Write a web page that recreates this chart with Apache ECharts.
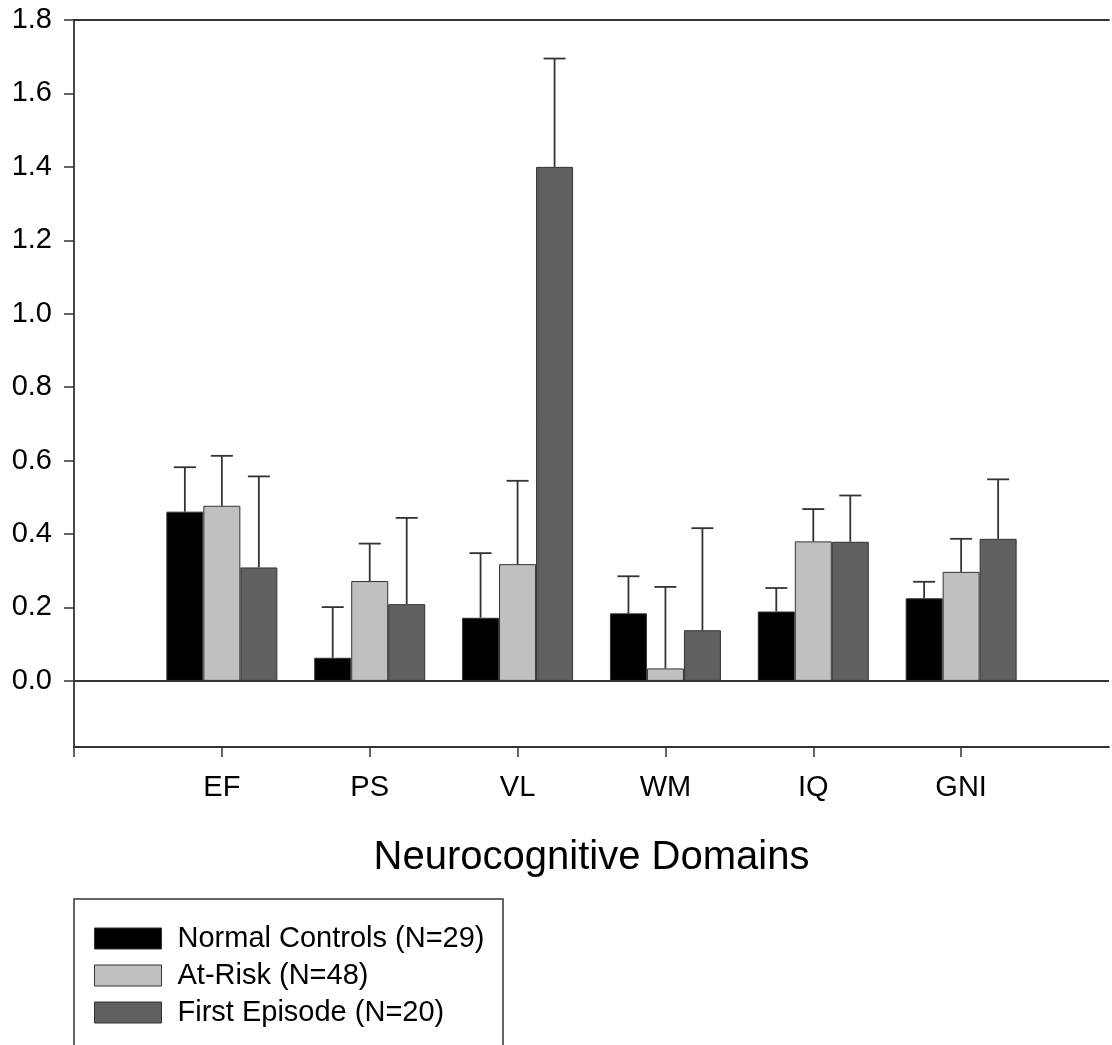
<!DOCTYPE html>
<html>
<head>
<meta charset="utf-8">
<script src="https://cdn.jsdelivr.net/npm/echarts@6/dist/echarts.min.js"></script>
<style>
  html, body { margin: 0; padding: 0; background: #fff; }
  #chart { width: 1112px; height: 1045px; }
</style>
</head>
<body>
<div id="chart"></div>
<script>
// 类别 (前后各空一格, 让坐标轴延伸到两端)
var domains = ['', 'EF', 'PS', 'VL', 'WM', 'IQ', 'GNI', ''];
var groupNames = ['Normal Controls (N=29)', 'At-Risk (N=48)', 'First Episode (N=20)'];
var groupColors = ['#000000', '#c0c0c0', '#606060'];

// 均值
var normalMean  = [0.461, 0.063, 0.172, 0.184, 0.189, 0.225];
var atRiskMean  = [0.477, 0.272, 0.318, 0.034, 0.380, 0.297];
var firstMean   = [0.309, 0.209, 1.400, 0.138, 0.379, 0.387];
// 误差线上端
var normalUpper = [0.582, 0.201, 0.348, 0.285, 0.253, 0.270];
var atRiskUpper = [0.613, 0.374, 0.545, 0.256, 0.468, 0.387];
var firstUpper  = [0.557, 0.444, 1.695, 0.416, 0.505, 0.549];

var yTicks = [0.0, 0.2, 0.4, 0.6, 0.8, 1.0, 1.2, 1.4, 1.6, 1.8];

var means = [normalMean, atRiskMean, firstMean];
var uppers = [normalUpper, atRiskUpper, firstUpper];

var barW = 37;
var font = 'Liberation Sans, Arial, sans-serif';

// 柱子数据 (类别下标从1开始)
function barData(arr) {
    var out = [];
    for (var i = 0; i < arr.length; i++) {
        out.push([i + 1, arr[i]]);
    }
    return out;
}

// 误差线
function errSeries(k) {
    var data = [];
    for (var i = 0; i < means[k].length; i++) {
        data.push([i + 1, means[k][i], uppers[k][i]]);
    }
    var offset = (k - 1) * barW;
    return {
        type: 'custom',
        z: 5,
        silent: true,
        data: data,
        encode: { x: 0, y: [1, 2] },
        renderItem: function(params, api) {
            var lo = api.coord([api.value(0), api.value(1)]);
            var hi = api.coord([api.value(0), api.value(2)]);
            var x = lo[0] + offset;
            var style = { stroke: '#333', lineWidth: 1.8 };
            return {
                type: 'group',
                children: [
                    { type: 'line', shape: { x1: x, y1: lo[1], x2: x, y2: hi[1] }, style: style },
                    { type: 'line', shape: { x1: x - 11, y1: hi[1], x2: x + 11, y2: hi[1] }, style: style }
                ]
            };
        }
    };
}

var series = [];
for (var k = 0; k < 3; k++) {
    series.push({
        name: groupNames[k],
        type: 'bar',
        barWidth: barW,
        barGap: '0%',
        data: barData(means[k]),
        itemStyle: {
            color: groupColors[k],
            borderColor: '#333',
            borderWidth: 1
        },
        markLine: k == 0 ? {
            silent: true,
            symbol: 'none',
            label: { show: false },
            lineStyle: { color: '#333', width: 1.8, type: 'solid' },
            data: [{ yAxis: 0 }]
        } : undefined
    });
}
for (var k = 0; k < 3; k++) {
    series.push(errSeries(k));
}

var option = {
    animation: false,
    backgroundColor: '#fff',
    textStyle: { fontFamily: font },
    grid: { left: 74, right: 0, top: 20, bottom: 298, containLabel: false },
    legend: {
        orient: 'vertical',
        left: 94,
        top: 924,
        padding: 0,
        itemWidth: 67,
        itemHeight: 21,
        itemGap: 8,
        textStyle: { fontSize: 29, color: '#000', fontFamily: font, padding: [0, 0, 0, 11], lineHeight: 29 },
        data: groupNames.map(function(n, i) {
            return { name: n, icon: 'rect', itemStyle: { color: groupColors[i], borderColor: '#333', borderWidth: 1 } };
        })
    },
    graphic: [{
        type: 'rect',
        shape: { x: 74, y: 899, width: 429, height: 200 },
        style: { fill: 'none', stroke: '#333', lineWidth: 1.5 }
    }],
    xAxis: [{
        type: 'category',
        data: domains,
        boundaryGap: false,
        name: 'Neurocognitive Domains',
        nameLocation: 'middle',
        nameGap: 91,
        nameTextStyle: { fontSize: 40, color: '#000', fontFamily: font },
        axisLine: { onZero: false, lineStyle: { color: '#333', width: 1.8 } },
        axisTick: {
            length: 10,
            lineStyle: { color: '#333', width: 1.5 },
            interval: function(idx) { return idx < 7; }
        },
        axisLabel: { fontSize: 29, color: '#000', margin: 26, fontFamily: font, interval: 0 },
        splitLine: { show: false }
    }, {
        type: 'category',
        data: domains,
        position: 'top',
        boundaryGap: false,
        axisLine: { onZero: false, lineStyle: { color: '#333', width: 1.8 } },
        axisTick: { show: false },
        axisLabel: { show: false },
        splitLine: { show: false }
    }],
    yAxis: {
        type: 'value',
        min: -0.18,
        max: 1.8,
        axisLine: { show: true, onZero: false, lineStyle: { color: '#333', width: 1.8 } },
        axisTick: {
            show: true,
            length: 10,
            customValues: yTicks,
            lineStyle: { color: '#333', width: 1.5 }
        },
        axisLabel: {
            fontSize: 29,
            color: '#000',
            margin: 22,
            fontFamily: font,
            customValues: yTicks,
            formatter: function(v) { return v.toFixed(1); }
        },
        splitLine: { show: false }
    },
    series: series
};

var chart = echarts.init(document.getElementById('chart'));
chart.setOption(option);
</script>
</body>
</html>
